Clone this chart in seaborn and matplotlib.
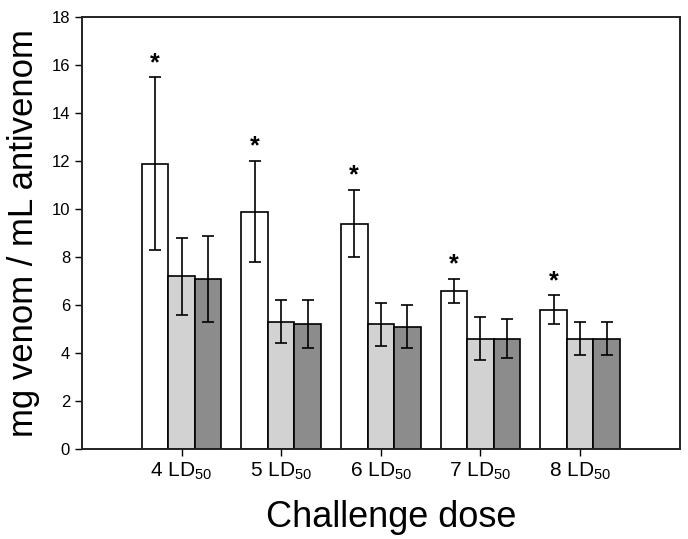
import numpy as np
import pandas as pd
import seaborn as sns
import matplotlib.pyplot as plt

doses = ["4", "5", "6", "7", "8"]
series = ["A", "B", "C"]
# bar heights for each series, one value per dose
values_a = [11.9, 9.9, 9.4, 6.6, 5.8]
values_b = [7.2, 5.3, 5.2, 4.6, 4.6]
values_c = [7.1, 5.2, 5.1, 4.6, 4.6]
# error bar ends (upper, lower)
upper_a = [15.5, 12.0, 10.8, 7.1, 6.4]
lower_a = [8.3, 7.8, 8.0, 6.1, 5.2]
upper_b = [8.8, 6.2, 6.1, 5.5, 5.3]
lower_b = [5.6, 4.4, 4.3, 3.7, 3.9]
upper_c = [8.9, 6.2, 6.0, 5.4, 5.3]
lower_c = [5.3, 4.2, 4.2, 3.8, 3.9]
starred = [True, True, True, True, True]

tick_labels = [f"{d} LD$\\mathregular{{_{{50}}}}$" for d in doses]

df = pd.DataFrame({
    "dose": doses * 3,
    "series": np.repeat(series, len(doses)),
    "value": values_a + values_b + values_c,
    "upper": upper_a + upper_b + upper_c,
    "lower": lower_a + lower_b + lower_c,
})

sns.set_style("ticks")
plt.rcParams["font.family"] = ["Liberation Sans", "DejaVu Sans"]
plt.rcParams["mathtext.fontset"] = "custom"
plt.rcParams["mathtext.rm"] = "Liberation Sans"
plt.rcParams["text.color"] = "black"
plt.rcParams["axes.labelcolor"] = "black"
plt.rcParams["xtick.color"] = "black"
plt.rcParams["ytick.color"] = "black"

fig, ax = plt.subplots(figsize=(6.88, 5.39), dpi=100)
fig.subplots_adjust(left=0.119, right=0.988, top=0.968, bottom=0.167)

sns.barplot(data=df, x="dose", y="value", hue="series",
            palette=["white", "#d2d2d2", "#8c8c8c"], edgecolor="black",
            linewidth=1.2, width=0.8, errorbar=None, legend=False, ax=ax)

# patches come out hue by hue, in the same order as df rows
bars = [p for p in ax.patches if p.get_height() > 0]
for bar, (_, row) in zip(bars, df.iterrows()):
    xc = bar.get_x() + bar.get_width() / 2
    ax.errorbar(xc, row["value"],
                yerr=[[row["value"] - row["lower"]], [row["upper"] - row["value"]]],
                fmt="none", ecolor="black", elinewidth=1.2, capsize=4.5, capthick=1.2)
    if row["series"] == "A" and starred[doses.index(row["dose"])]:
        ax.text(xc, row["upper"] + 0.1, "*", ha="center", va="bottom",
                fontsize=18, fontweight="bold")

ax.set_ylim(0, 18)
ax.set_yticks(range(0, 19, 2))
ax.set_xlim(-1, 5)
ax.set_xticks(range(len(doses)))
ax.set_xticklabels(tick_labels, fontsize=15)
ax.tick_params(axis="y", labelsize=12, length=5, width=1, direction="out")
ax.tick_params(axis="x", length=5, width=1, direction="out")
ax.set_xlabel("Challenge dose", fontsize=26)
ax.xaxis.set_label_coords(0.518, -0.118)
ax.set_ylabel("mg venom / mL antivenom", fontsize=25, labelpad=8)
for s in ax.spines.values():
    s.set_visible(True)
    s.set_linewidth(1.4)
    s.set_color("#222222")

fig.savefig("out.png", dpi=100)
